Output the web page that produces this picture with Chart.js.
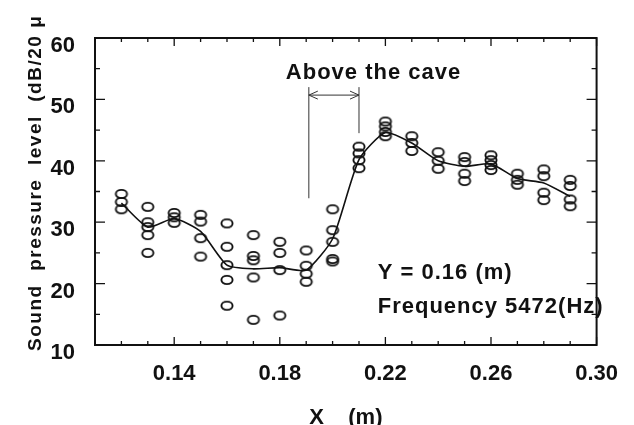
<!DOCTYPE html>
<html>
<head>
<meta charset="utf-8">
<script src="https://cdn.jsdelivr.net/npm/chart.js@4/dist/chart.umd.min.js"></script>
<style>
  html, body { margin: 0; padding: 0; background: #fff; }
  #wrap { width: 634px; height: 425px; position: relative; }
</style>
</head>
<body>
<div id="wrap"><canvas id="cChart"></canvas></div>
<script>
// measuring positions along X (m)
var xPositions = [0.12, 0.13, 0.14, 0.15, 0.16, 0.17, 0.18, 0.19, 0.20,
                  0.21, 0.22, 0.23, 0.24, 0.25, 0.26, 0.27, 0.28, 0.29];

// individual readings (dB) at each position, same order as xPositions
var readings = [
  [34.6, 33.3, 32.1],
  [32.5, 30.0, 29.2, 27.9, 25.0],
  [31.5, 30.8, 29.9],
  [31.2, 30.1, 27.4, 24.4],
  [29.8, 26.0, 23.0, 20.6, 16.4],
  [27.9, 24.5, 23.8, 21.0, 14.1],
  [26.8, 25.0, 22.2, 14.8],
  [25.4, 22.9, 21.6, 20.3],
  [32.1, 28.7, 26.8, 24.0, 23.6],
  [42.3, 41.2, 40.1, 38.8],
  [46.4, 45.6, 44.7, 44.0],
  [44.0, 42.9, 41.6],
  [41.4, 40.0, 38.7],
  [40.6, 39.8, 37.9, 36.7],
  [40.9, 40.1, 39.3, 38.5],
  [37.9, 36.9, 36.1],
  [38.6, 37.5, 34.8, 33.6],
  [36.9, 35.9, 33.7, 32.6]
];

// mean curve drawn through the readings
var meanLevel = [33.1, 29.2, 30.6, 28.5, 23.0, 22.4, 22.6, 22.2, 27.3,
                 40.2, 44.6, 42.9, 40.0, 39.1, 39.5, 37.1, 36.4, 34.2];

var xTickLabels = [0.14, 0.18, 0.22, 0.26, 0.30];
var yTickLabels = [10, 20, 30, 40, 50, 60];

var caveStart = 0.191, caveEnd = 0.21;

var FONT = '"Liberation Sans", Arial, sans-serif';
var INK = '#111';

function ringImage() {
  var c = document.createElement('canvas');
  c.width = 16; c.height = 12;
  var g = c.getContext('2d');
  g.strokeStyle = INK;
  g.lineWidth = 1.9;
  g.beginPath();
  g.ellipse(8, 6, 5.6, 4.1, 0, 0, Math.PI * 2);
  g.stroke();
  return c;
}

var scatterPts = [];
xPositions.forEach(function(x, i) {
  readings[i].forEach(function(v) { scatterPts.push({x: x, y: v}); });
});
var linePts = xPositions.map(function(x, i) { return {x: x, y: meanLevel[i]}; });

var framePlugin = {
  id: 'frame',
  afterDatasetsDraw: function(chart) {
    var ctx = chart.ctx, a = chart.chartArea;
    var xs = chart.scales.x, ys = chart.scales.y;
    ctx.save();
    ctx.strokeStyle = INK;
    ctx.lineWidth = 2;
    ctx.strokeRect(a.left, a.top, a.right - a.left, a.bottom - a.top);

    // inward ticks on all four sides
    ctx.lineWidth = 1.3;
    ctx.beginPath();
    for (var i = 11; i <= 30; i++) {
      var px = xs.getPixelForValue(i / 100);
      var len = (i % 4 === 2) ? 8 : 4;
      ctx.moveTo(px, a.bottom); ctx.lineTo(px, a.bottom - len);
      ctx.moveTo(px, a.top); ctx.lineTo(px, a.top + len);
    }
    for (var v = 10; v <= 60; v += 5) {
      var py = ys.getPixelForValue(v);
      var l2 = (v % 10 === 0) ? 10 : 5;
      ctx.moveTo(a.left, py); ctx.lineTo(a.left + l2, py);
      ctx.moveTo(a.right, py); ctx.lineTo(a.right - l2, py);
    }
    ctx.stroke();

    // "Above the cave" bracket
    var xl = xs.getPixelForValue(caveStart), xr = xs.getPixelForValue(caveEnd);
    var yTop = ys.getPixelForValue(52.0);
    var yArrow = ys.getPixelForValue(50.7);
    ctx.strokeStyle = '#333';
    ctx.lineWidth = 1;
    ctx.beginPath();
    ctx.moveTo(xl, yTop); ctx.lineTo(xl, ys.getPixelForValue(33.9));
    ctx.moveTo(xr, yTop); ctx.lineTo(xr, ys.getPixelForValue(44.5));
    ctx.moveTo(xl, yArrow); ctx.lineTo(xr, yArrow);
    ctx.moveTo(xl + 9, yArrow - 4); ctx.lineTo(xl, yArrow); ctx.lineTo(xl + 9, yArrow + 4);
    ctx.moveTo(xr - 9, yArrow - 4); ctx.lineTo(xr, yArrow); ctx.lineTo(xr - 9, yArrow + 4);
    ctx.stroke();

    ctx.fillStyle = INK;
    ctx.font = 'bold 22px ' + FONT;
    ctx.letterSpacing = '1px';
    ctx.textBaseline = 'middle';
    ctx.textAlign = 'center';
    ctx.fillText('Above the cave', xs.getPixelForValue(0.2155), ys.getPixelForValue(54.3));
    ctx.textAlign = 'left';
    ctx.fillText('Y = 0.16 (m)', xs.getPixelForValue(0.2171), ys.getPixelForValue(21.7));
    ctx.fillText('Frequency 5472(Hz)', xs.getPixelForValue(0.2171), ys.getPixelForValue(16.2));

    // y axis title, rotated
    ctx.save();
    ctx.translate(36, 351);
    ctx.rotate(-Math.PI / 2);
    ctx.font = 'bold 19px ' + FONT;
    ctx.letterSpacing = '1.5px';
    ctx.textAlign = 'left';
    ctx.fillText('Sound  pressure  level  (dB/20 \u03bc', 0, 0);
    ctx.restore();

    ctx.restore();
  }
};

var ctx = document.getElementById('cChart');
new Chart(ctx, {
  type: 'scatter',
  data: {
    datasets: [
      {
        label: 'mean',
        data: linePts,
        showLine: true,
        borderColor: INK,
        borderWidth: 1.6,
        pointRadius: 0,
        tension: 0.2,
        fill: false
      },
      {
        label: 'readings',
        data: scatterPts,
        pointStyle: ringImage(),
        borderColor: INK,
        backgroundColor: 'rgba(0,0,0,0)'
      }
    ]
  },
  options: {
    responsive: true,
    maintainAspectRatio: false,
    animation: false,
    layout: { padding: { left: 0, right: 28, top: 38, bottom: 0 } },
    plugins: {
      legend: { display: false },
      tooltip: { enabled: false }
    },
    scales: {
      x: {
        type: 'linear',
        min: 0.11,
        max: 0.30,
        grid: { display: false, drawTicks: false },
        border: { display: false },
        afterBuildTicks: function(scale) {
          scale.ticks = xTickLabels.map(function(v) { return {value: v}; });
        },
        afterFit: function(scale) { scale.height = 80; },
        ticks: {
          autoSkip: false,
          maxRotation: 0,
          padding: 16,
          color: INK,
          font: { family: FONT, size: 22, weight: 'bold' },
          callback: function(v) { return Number(v).toFixed(2); }
        },
        title: {
          display: true,
          text: 'X    (m)',
          color: INK,
          padding: { top: 0, bottom: 0 },
          font: { family: FONT, size: 22, weight: 'bold', lineHeight: 0.6 }
        }
      },
      y: {
        min: 10,
        max: 60,
        grid: { display: false, drawTicks: false },
        border: { display: false },
        afterBuildTicks: function(scale) {
          scale.ticks = yTickLabels.map(function(v) { return {value: v}; });
        },
        afterFit: function(scale) { scale.width = 95; },
        ticks: {
          padding: 20,
          labelOffset: 8,
          color: INK,
          font: { family: FONT, size: 22, weight: 'bold' }
        }
      }
    }
  },
  plugins: [framePlugin]
});
</script>
</body>
</html>
